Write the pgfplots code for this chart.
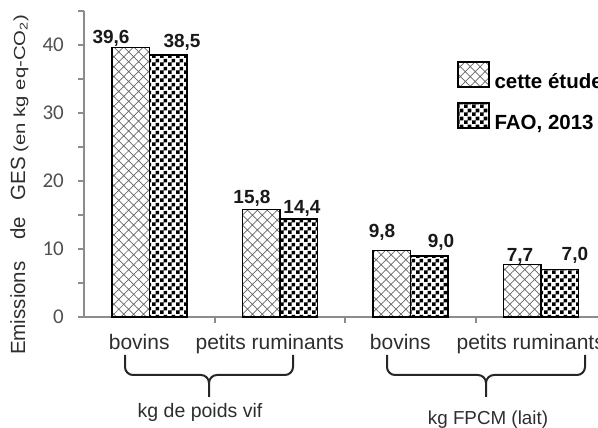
\documentclass[border=0pt]{standalone}
\usepackage{fontspec}
\setmainfont{Liberation Sans}
\newfontfamily\carl{Carlito}
\usepackage{graphicx}
\usepackage{pgfplots}
\pgfplotsset{compat=1.18}
\usetikzlibrary{patterns,patterns.meta}
\definecolor{axgray}{HTML}{8C8C8C}
\definecolor{txtgray}{HTML}{2E2E2E}
\definecolor{tickgray}{HTML}{505050}
\pgfdeclarepatternformonly{bigchecker}{\pgfpointorigin}{\pgfqpoint{7.6pt}{7.6pt}}{\pgfqpoint{7.6pt}{7.6pt}}{%
  \pgfpathrectangle{\pgfpointorigin}{\pgfqpoint{3.8pt}{3.8pt}}%
  \pgfpathrectangle{\pgfqpoint{3.8pt}{3.8pt}}{\pgfqpoint{3.8pt}{3.8pt}}%
  \pgfusepath{fill}}
\begin{document}
\begin{tikzpicture}
\begin{axis}[
  at={(84pt,111pt)}, anchor=south west,
  scale only axis, width=522pt, height=306pt,
  xmin=-0.5, xmax=3.5, ymin=0, ymax=45,
  axis lines=left,
  axis line style={draw=axgray, line width=2pt, -},
  xtick={0,1,2,3},
  xticklabels={bovins, petits ruminants, bovins, petits ruminants},
  minor xtick={0.5,1.5,2.5},
  major x tick style={draw=none},
  minor x tick style={draw=axgray, line width=2pt},
  ytick={0,10,20,30,40},
  yticklabels={0,10,20,30,40},
  minor ytick={5,15,25,35,45},
  y tick style={draw=axgray, line width=2pt},
  major tick length=6pt, minor tick length=6pt,
  tick align=outside,
  /pgf/number format/assume math mode=true,
  xticklabel style={font=\fontsize{21}{21}\selectfont, text=txtgray, anchor=base, inner sep=0pt, yshift=-27pt, xshift=-10pt},
  yticklabel style={font=\carl\fontsize{21}{21}\selectfont, text=tickgray, anchor=east, inner sep=0pt, xshift=-14pt},
  clip=false,
  legend style={at={(0.7146,0.8366)}, anchor=north west, draw=none, fill=none,
    inner sep=0pt, outer sep=0pt, row sep=12pt,
    font=\bfseries\fontsize{20.5}{20.5}\selectfont,
    nodes={inner sep=0pt, outer sep=0pt}},
  legend cell align=left,
  legend image code/.code={\draw[#1, line width=1.5pt] (0pt,-5pt) rectangle (31pt,20pt); \path (36pt,0pt);},
]
\addplot[ybar, bar width=37.5pt, bar shift=-18.75pt, draw=black, line width=1.5pt,
  pattern={Hatch[angle=45,distance=7pt,line width=0.7pt]}, pattern color=black!60]
  coordinates {(0,39.6) (1,15.8) (2,9.8) (3,7.7)};
\addlegendentry{cette étude}
\addplot[ybar, bar width=37.5pt, bar shift=18.75pt, draw=black, line width=1.5pt,
  pattern=bigchecker, pattern color=black]
  coordinates {(0,38.5) (1,14.4) (2,9.0) (3,7.0)};
\addlegendentry{FAO, 2013}
\begin{scope}[every node/.style={anchor=base, inner sep=0pt, font=\bfseries\fontsize{19}{19}\selectfont, text=black!90}]
\node at (axis cs:-0.293,40.29) {39,6};
\node at (axis cs:0.251,39.56) {38,5};
\node at (axis cs:0.787,16.76) {15,8};
\node at (axis cs:1.170,15.29) {14,4};
\node at (axis cs:1.784,11.76) {9,8};
\node at (axis cs:2.236,10.15) {9,0};
\node at (axis cs:2.841,8.09) {7,7};
\node at (axis cs:3.262,8.24) {7,0};
\end{scope}
\end{axis}
% y label
\node[rotate=90, anchor=base west, inner sep=0pt, text=txtgray] at (25pt,73pt)
  {\fontsize{20.5}{20.5}\selectfont Emissions\hspace{22pt}de\hspace{16pt}GES\hspace{5pt}\scalebox{1.27}[1]{\fontsize{16}{16}\selectfont (en kg eq-CO\textsubscript{2})}};
% braces
\begin{scope}[line width=2pt, draw=black!85]
\draw (125pt,73pt) -- (125pt,61pt) to[out=-90,in=180] (133pt,53pt) -- (201pt,53pt) to[out=0,in=90] (209pt,45pt) -- (209pt,31pt);
\draw (209pt,45pt) to[out=90,in=180] (217pt,53pt) -- (285pt,53pt) to[out=0,in=-90] (293pt,61pt) -- (293pt,73pt);
\draw (387pt,73pt) -- (387pt,61pt) to[out=-90,in=180] (395pt,53pt) -- (478pt,53pt) to[out=0,in=90] (486pt,45pt) -- (486pt,31pt);
\draw (486pt,45pt) to[out=90,in=180] (494pt,53pt) -- (577pt,53pt) to[out=0,in=-90] (585pt,61pt) -- (585pt,73pt);
\end{scope}
\node[anchor=base, inner sep=0pt, text=txtgray, font=\fontsize{19.5}{19.5}\selectfont] at (200pt,10pt) {kg de poids vif};
\node[anchor=base, inner sep=0pt, text=txtgray, font=\fontsize{18.8}{18.8}\selectfont] at (488pt,3pt) {kg FPCM (lait)};
\pgfresetboundingbox
\path[use as bounding box] (0pt,0pt) rectangle (598pt,428pt);
\end{tikzpicture}
\end{document}
